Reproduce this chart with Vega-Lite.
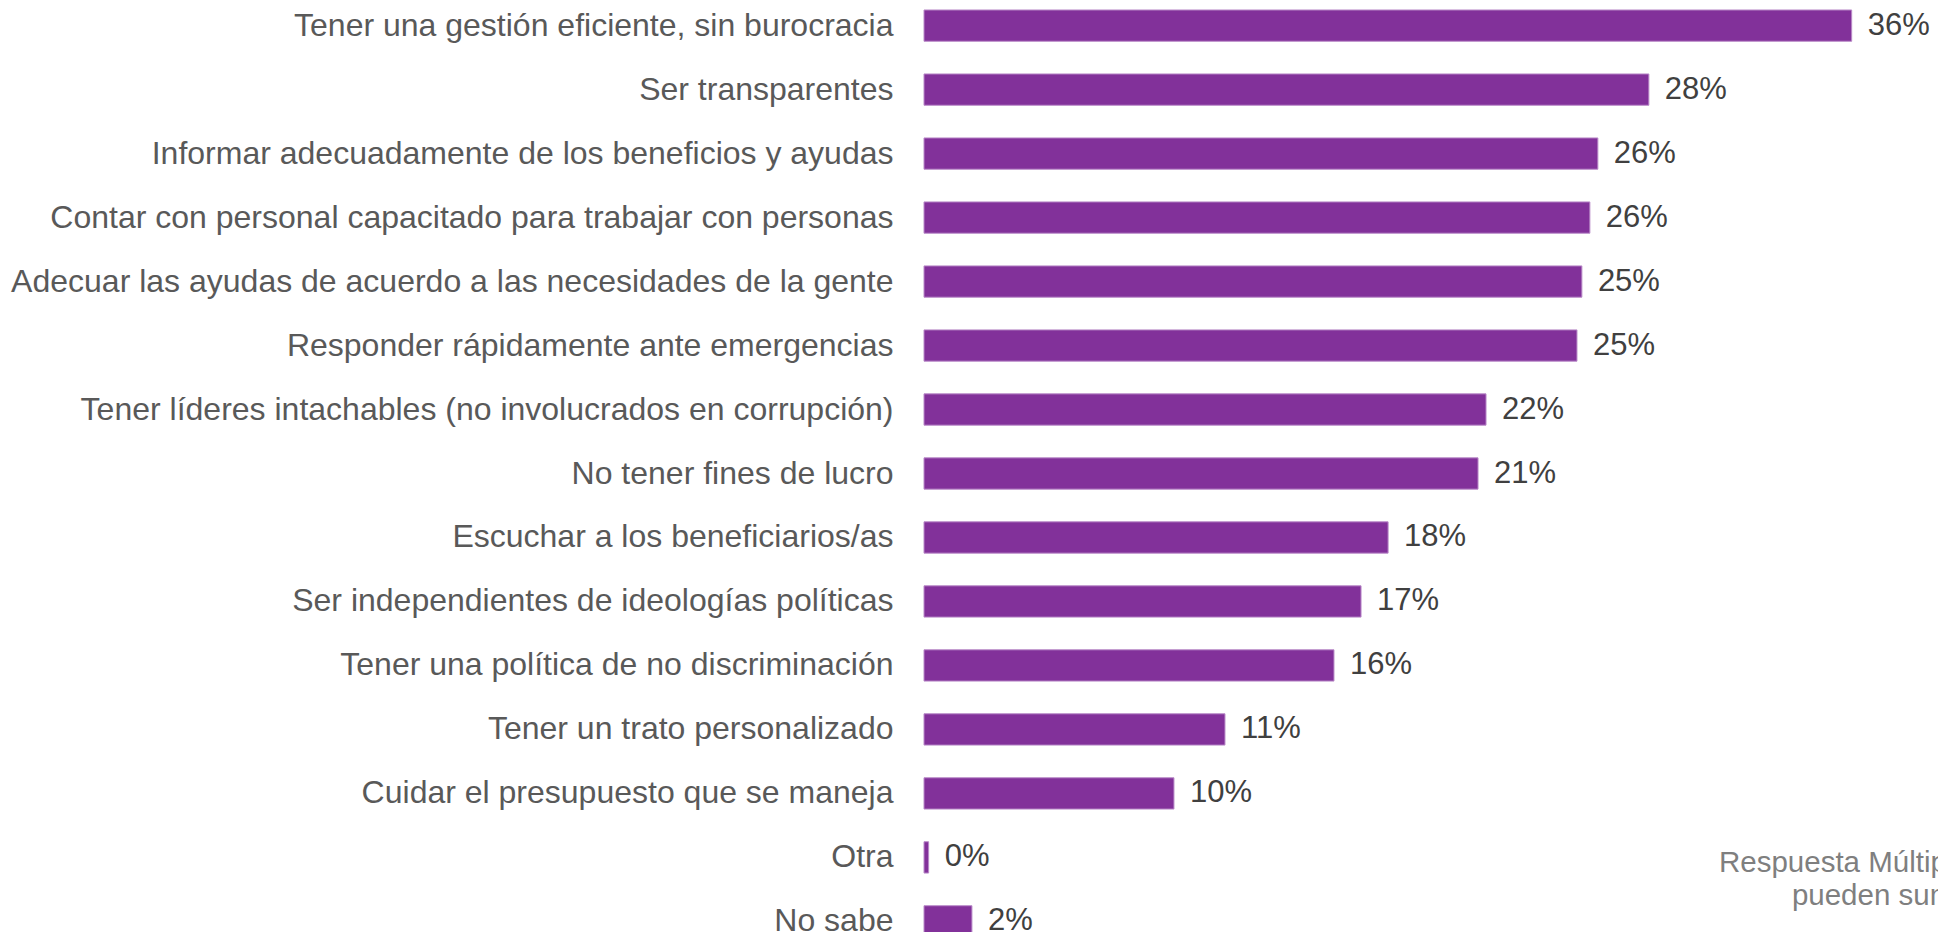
{
  "$schema": "https://vega.github.io/schema/vega-lite/v6.json",
  "autosize": "none",
  "padding": {"left": 924, "top": 0, "right": 0, "bottom": 0},
  "width": 1014,
  "height": 947,
  "background": "white",
  "config": {"view": {"stroke": null}, "font": "Liberation Sans"},
  "datasets": {
    "bars": [
      {"item": "Tener una gestión eficiente, sin burocracia", "value": 36.0, "label": "36%"},
      {"item": "Ser transparentes", "value": 28.13, "label": "28%"},
      {"item": "Informar adecuadamente de los beneficios y ayudas", "value": 26.15, "label": "26%"},
      {"item": "Contar con personal capacitado para trabajar con personas", "value": 25.84, "label": "26%"},
      {"item": "Adecuar las ayudas de acuerdo a las necesidades de la gente", "value": 25.53, "label": "25%"},
      {"item": "Responder rápidamente ante emergencias", "value": 25.34, "label": "25%"},
      {"item": "Tener líderes intachables (no involucrados en corrupción)", "value": 21.81, "label": "22%"},
      {"item": "No tener fines de lucro", "value": 21.5, "label": "21%"},
      {"item": "Escuchar a los beneficiarios/as", "value": 18.01, "label": "18%"},
      {"item": "Ser independientes de ideologías políticas", "value": 16.96, "label": "17%"},
      {"item": "Tener una política de no discriminación", "value": 15.91, "label": "16%"},
      {"item": "Tener un trato personalizado", "value": 11.68, "label": "11%"},
      {"item": "Cuidar el presupuesto que se maneja", "value": 9.7, "label": "10%"},
      {"item": "Otra", "value": 0.18, "label": "0%"},
      {"item": "No sabe", "value": 1.86, "label": "2%"}
    ],
    "note1": [
      {"note": "Respuesta Múltiple, los porcentajes", "x": 30.85, "row": "Otra"}
    ],
    "note2": [
      {"note": "pueden sumar más de 100%", "x": 33.68, "row": "Otra"}
    ]
  },
  "layer": [
    {
      "data": {"name": "bars"},
      "mark": {"type": "bar", "color": "#82319A", "stroke": "#B98AC8", "strokeWidth": 1},
      "encoding": {
        "y": {
          "field": "item", "type": "nominal", "sort": null,
          "scale": {"paddingInner": 0.511, "paddingOuter": 0.156},
          "axis": {
            "title": null, "ticks": false, "domain": false, "labelPadding": 31,
            "labelFontSize": 32, "labelColor": "#595959", "labelLimit": 0,
            "labelFont": "Liberation Sans"
          }
        },
        "x": {
          "field": "value", "type": "quantitative",
          "scale": {"domain": [0, 39.35], "nice": false, "zero": true},
          "axis": null
        }
      }
    },
    {
      "data": {"name": "bars"},
      "mark": {"type": "text", "align": "left", "baseline": "middle", "dx": 16, "fontSize": 31, "color": "#404040", "font": "Liberation Sans"},
      "encoding": {
        "y": {"field": "item", "type": "nominal", "sort": null},
        "x": {"field": "value", "type": "quantitative"},
        "text": {"field": "label"}
      }
    },
    {
      "data": {"name": "note1"},
      "mark": {"type": "text", "align": "left", "baseline": "alphabetic", "dy": 15, "fontSize": 29.5, "color": "#7F7F7F", "font": "Liberation Sans"},
      "encoding": {
        "y": {"field": "row", "type": "nominal", "sort": null},
        "x": {"field": "x", "type": "quantitative"},
        "text": {"field": "note"}
      }
    },
    {
      "data": {"name": "note2"},
      "mark": {"type": "text", "align": "left", "baseline": "alphabetic", "dy": 48, "fontSize": 29.5, "color": "#7F7F7F", "font": "Liberation Sans"},
      "encoding": {
        "y": {"field": "row", "type": "nominal", "sort": null},
        "x": {"field": "x", "type": "quantitative"},
        "text": {"field": "note"}
      }
    }
  ]
}
